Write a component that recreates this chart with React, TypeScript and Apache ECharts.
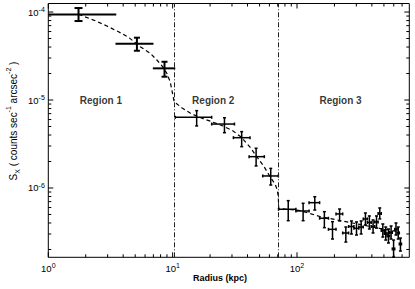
import React, { useEffect, useRef } from 'react';
import * as echarts from 'echarts';

// Measured surface-brightness profile (radius in kpc, S_X in counts sec^-1 arcsec^-2)
const radius = [1.75, 5.16, 8.6, 15.6, 26.1, 35.9, 46.9, 61.5,
  85, 112, 139, 166, 193, 220, 247, 274, 301, 328, 355, 382, 409, 436, 463, 490, 517, 544, 571, 598, 625, 652, 679];
const radiusLo = [1.0, 3.47, 6.93, 10.5, 20.6, 30.8, 41.2, 53,
  71, 98, 125, 152, 179, 206, 233, 260, 287, 314, 341, 368, 395, 422, 449, 476, 503, 530, 557, 584, 611, 638, 665];
const radiusHi = [3.52, 7.01, 10.5, 20.6, 31.4, 41.9, 54.6, 70.8,
  98, 125, 152, 179, 206, 233, 260, 287, 314, 341, 368, 395, 422, 449, 476, 503, 530, 557, 584, 611, 638, 665, 692];
const brightness = [9.4e-5, 4.36e-5, 2.29e-5, 6.36e-6, 5.33e-6, 3.73e-6, 2.27e-6, 1.37e-6,
  5.73e-7, 5.48e-7, 6.81e-7, 4.53e-7, 3.39e-7, 5.07e-7, 3.08e-7, 3.65e-7, 3.48e-7, 3.6e-7, 4.45e-7, 4.06e-7,
  3.65e-7, 4.11e-7, 5.13e-7, 3.29e-7, 3.04e-7, 2.85e-7, 3.12e-7, 2.03e-7, 3.39e-7, 3.08e-7, 2.31e-7];
const brightnessLo = [7.9e-5, 3.63e-5, 1.84e-5, 5.07e-6, 4.25e-6, 2.95e-6, 1.78e-6, 1.08e-6,
  4.25e-7, 4.25e-7, 5.62e-7, 3.54e-7, 2.63e-7, 4.22e-7, 2.43e-7, 3.0e-7, 2.92e-7, 3.0e-7, 3.8e-7, 3.42e-7,
  3.08e-7, 3.5e-7, 4.45e-7, 2.77e-7, 2.56e-7, 2.37e-7, 2.63e-7, 1.64e-7, 2.92e-7, 2.63e-7, 1.92e-7];
const brightnessHi = [1.11e-4, 5.11e-5, 2.72e-5, 7.57e-6, 6.29e-6, 4.37e-6, 2.83e-6, 1.67e-6,
  7.18e-7, 6.7e-7, 7.96e-7, 5.38e-7, 4.14e-7, 5.77e-7, 3.6e-7, 4.22e-7, 4.11e-7, 4.22e-7, 5.2e-7, 4.81e-7,
  4.33e-7, 4.81e-7, 5.93e-7, 3.9e-7, 3.6e-7, 3.42e-7, 3.7e-7, 2.56e-7, 4.0e-7, 3.6e-7, 2.7e-7];

// Dashed model curve
const modelRadius = [1.75, 2.385, 2.962, 3.67, 4.42, 5.48, 6.6, 7.47, 8.24, 8.98, 9.55, 10.04, 10.28,
  11.92, 13.82, 16.63, 20.4, 25.4, 30.6, 35.5, 41.9, 47.7, 54.3, 60.7, 66.6, 69.5, 70.8, 71.3,
  105.7, 153, 221, 321, 464, 671];
const modelBrightness = [9.42e-5, 7.96e-5, 6.93e-5, 5.97e-5, 5.16e-5, 4.04e-5, 3.4e-5, 2.85e-5, 2.43e-5, 2.01e-5, 1.61e-5, 1.14e-5, 9.57e-6,
  8.11e-6, 7.11e-6, 6.32e-6, 5.7e-6, 5.07e-6, 4.45e-6, 3.8e-6, 2.92e-6, 2.25e-6, 1.75e-6, 1.34e-6, 1.11e-6, 9.49e-7, 7.69e-7, 5.85e-7,
  5.55e-7, 4.74e-7, 4.27e-7, 3.85e-7, 3.47e-7, 3.16e-7];

// Region boundaries and labels
const regionBoundaries = [10.28, 71.3];
const regionNames = ['Region 1', 'Region 2', 'Region 3'];
const regionLabelRadius = [2.65, 21.2, 224];
const regionLabelBrightness = [1e-5, 1e-5, 1e-5];

// Axis ticks
const xMajorTicks = [1, 10, 100];
const xMinorTicks = [2, 3, 4, 5, 6, 7, 8, 9, 20, 30, 40, 50, 60, 70, 80, 90, 200, 300, 400, 500, 600, 700];
const yMajorTicks = [1e-6, 1e-5, 1e-4];
const yMinorTicks = [2e-7, 3e-7, 4e-7, 5e-7, 6e-7, 7e-7, 8e-7, 9e-7,
  2e-6, 3e-6, 4e-6, 5e-6, 6e-6, 7e-6, 8e-6, 9e-6,
  2e-5, 3e-5, 4e-5, 5e-5, 6e-5, 7e-5, 8e-5, 9e-5];

const xMin = 1;
const xMax = 800;
const yMin = 1.63e-7;
const yMax = 1.25e-4;

const FONT = "'Liberation Sans', Arial, Helvetica, sans-serif";

export default function App() {
  const ref = useRef<HTMLDivElement>(null);
  useEffect(() => {
    document.body.style.margin = '0';
    const chart = echarts.init(ref.current as HTMLDivElement, null, { renderer: 'svg' });

    const pointData = radius.map((r, i) => [r, radiusLo[i], radiusHi[i], brightness[i], brightnessLo[i], brightnessHi[i]]);
    const tickData = [
      ...xMajorTicks.map((v) => [v, 1e-6, 0]),
      ...xMinorTicks.map((v) => [v, 1e-6, 1]),
      ...yMajorTicks.map((v) => [10, v, 2]),
      ...yMinorTicks.map((v) => [10, v, 3]),
    ];
    const modelData = modelRadius.map((r, i) => [r, modelBrightness[i]]);
    const regionData = regionNames.map((n, i) => ({ name: n, value: [regionLabelRadius[i], regionLabelBrightness[i]] }));

    const powLabel = (v: number) => {
      const l = Math.log10(v);
      const e = Math.round(l);
      if (Math.abs(l - e) > 1e-6) return '';
      return `{b|10}{s|${e}}`;
    };
    const labelRich = {
      b: { fontSize: 9.5, lineHeight: 12, fontFamily: FONT, color: '#000' },
      s: { fontSize: 7, lineHeight: 6, verticalAlign: 'top', fontFamily: FONT, color: '#000' },
    };

    chart.setOption({
      animation: false,
      grid: {
        left: 48.3, top: 3.5, width: 361, height: 253.8,
        show: true, borderColor: '#000', borderWidth: 1, backgroundColor: 'transparent',
      },
      xAxis: {
        type: 'log', logBase: 10, min: xMin, max: xMax,
        axisLine: { show: false }, axisTick: { show: false }, splitLine: { show: false },
        axisLabel: { formatter: powLabel, margin: 5, rich: labelRich, color: '#000' },
      },
      yAxis: {
        type: 'log', logBase: 10, min: yMin, max: yMax,
        axisLine: { show: false }, axisTick: { show: false }, splitLine: { show: false },
        axisLabel: { formatter: powLabel, margin: 3.5, rich: labelRich, color: '#000' },
      },
      graphic: [
        {
          type: 'text', x: 220, y: 278,
          style: { text: 'Radius (kpc)', fontSize: 9, fontWeight: 'bold', fontFamily: FONT, fill: '#000', align: 'center', verticalAlign: 'middle' },
        },
        {
          type: 'text', x: 13, y: 121, rotation: Math.PI / 2,
          style: {
            text: '{n|S}{sub|X}{n| ( counts sec}{sup|-1}{n| arcsec}{sup|-2}{n| )}',
            align: 'center', verticalAlign: 'middle', fill: '#000',
            rich: {
              n: { fontSize: 10, lineHeight: 16, fontFamily: FONT, fill: '#000' },
              sup: { fontSize: 7, lineHeight: 8, verticalAlign: 'top', fontFamily: FONT, fill: '#000' },
              sub: { fontSize: 7, lineHeight: 8, verticalAlign: 'bottom', fontFamily: FONT, fill: '#000' },
            },
          },
        },
      ],
      series: [
        {
          type: 'custom',
          name: 'ticks',
          silent: true,
          data: tickData,
          encode: { x: 0, y: 1 },
          renderItem: (params: any, api: any) => {
            const cs = params.coordSys;
            const kind = api.value(2);
            const p = api.coord([api.value(0), api.value(1)]);
            const len = kind % 2 === 0 ? 5 : 3;
            const style = { stroke: '#000', lineWidth: 1 };
            if (kind < 2) {
              const x = p[0];
              return {
                type: 'group', children: [
                  { type: 'line', shape: { x1: x, y1: cs.y + cs.height, x2: x, y2: cs.y + cs.height - len }, style },
                  { type: 'line', shape: { x1: x, y1: cs.y, x2: x, y2: cs.y + len }, style },
                ],
              };
            }
            const y = p[1];
            return {
              type: 'group', children: [
                { type: 'line', shape: { x1: cs.x, y1: y, x2: cs.x + len, y2: y }, style },
                { type: 'line', shape: { x1: cs.x + cs.width, y1: y, x2: cs.x + cs.width - len, y2: y }, style },
              ],
            };
          },
        },
        {
          type: 'line',
          name: 'model',
          data: modelData,
          showSymbol: false,
          symbol: 'none',
          lineStyle: { color: '#000', width: 1.2, type: [4, 3] },
          markLine: {
            silent: true,
            symbol: 'none',
            label: { show: false },
            lineStyle: { color: '#222', width: 1, type: [5, 2, 1, 2] },
            data: regionBoundaries.map((b) => ({ xAxis: b })),
          },
        },
        {
          type: 'custom',
          name: 'profile',
          data: pointData,
          encode: { x: [0, 1, 2], y: [3, 4, 5] },
          renderItem: (params: any, api: any) => {
            const i = params.dataIndex;
            const r = api.value(0), rl = api.value(1), rh = api.value(2);
            const s = api.value(3), sl = api.value(4), sh = api.value(5);
            const c = api.coord([r, s]);
            const l = api.coord([rl, s]);
            const h = api.coord([rh, s]);
            const t = api.coord([r, sh]);
            const b = api.coord([r, sl]);
            const cap = i === 0 ? 4 : i < 3 ? 3 : 1.5;
            const style = { stroke: '#000', lineWidth: i < 3 ? 2 : 1.5 };
            const children: any[] = [
              { type: 'line', shape: { x1: l[0], y1: c[1], x2: h[0], y2: c[1] }, style },
              { type: 'line', shape: { x1: c[0], y1: t[1], x2: c[0], y2: b[1] }, style },
              { type: 'line', shape: { x1: c[0] - cap, y1: t[1], x2: c[0] + cap, y2: t[1] }, style },
              { type: 'line', shape: { x1: c[0] - cap, y1: b[1], x2: c[0] + cap, y2: b[1] }, style },
            ];
            if (i >= 3) {
              children.push({ type: 'line', shape: { x1: l[0], y1: c[1] - 1.5, x2: l[0], y2: c[1] + 1.5 }, style });
              children.push({ type: 'line', shape: { x1: h[0], y1: c[1] - 1.5, x2: h[0], y2: c[1] + 1.5 }, style });
            }
            return { type: 'group', children };
          },
        },
        {
          type: 'scatter',
          name: 'regions',
          silent: true,
          symbolSize: 1,
          itemStyle: { color: 'rgba(0,0,0,0)' },
          data: regionData,
          label: {
            show: true, position: 'inside', formatter: (p: any) => p.name,
            fontSize: 10, fontWeight: 'bold', fontFamily: FONT, color: '#000',
          },
        },
      ],
    });
    return () => chart.dispose();
  }, []);
  return <div ref={ref} style={{ width: 415, height: 289 }} />;
}
